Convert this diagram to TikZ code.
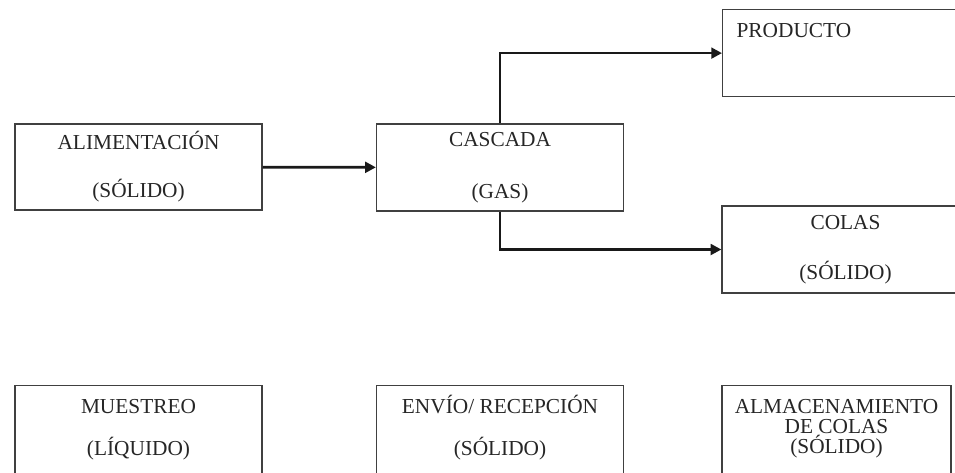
\documentclass[tikz,border=0pt]{standalone}
\usepackage{fontspec}
\setmainfont{Liberation Serif}
\usetikzlibrary{arrows.meta}

\begin{document}
\begin{tikzpicture}[x=0.75pt, y=-0.75pt,
    blk/.style={shape=rectangle, draw=black!75, line width=0.9pt, minimum width=185.25pt, minimum height=64.5pt, inner sep=0pt, align=center, text=black!85},
    blktop/.style={blk, anchor=north, minimum height=0pt, text height=52.5pt, text depth=60pt},
    blkleft/.style={blk, anchor=north west, align=left, text width=164.25pt, inner xsep=10.5pt, minimum height=0pt, text height=21pt, text depth=44.25pt},
    flow/.style={draw=black!90, line width=2pt, -{Triangle[length=8pt, width=8pt]}},
]
\clip (0,0) rectangle (955,472);
\node[blk, font=\fontsize{16}{36}\selectfont] (alim) at (138.5,167) {ALIMENTACIÓN\\(SÓLIDO)};
\node[blk, minimum height=65.25pt, font=\fontsize{16}{39}\selectfont] (casc) at (500,167.5) {CASCADA\\(GAS)};
\node[blkleft, font=\fontsize{16}{19}\selectfont] (prod) at (722,9) {PRODUCTO};
\node[blk, minimum height=65.25pt, font=\fontsize{16}{37.5}\selectfont] (colas) at (845.5,249.5) {COLAS\\(SÓLIDO)};
\node[blktop, font=\fontsize{16}{31.5}\selectfont] (muest) at (138.5,385) {MUESTREO\\(LÍQUIDO)};
\node[blktop, font=\fontsize{16}{31.5}\selectfont] (envio) at (500,385) {ENVÍO/ RECEPCIÓN\\(SÓLIDO)};
\node[blktop, minimum width=171.75pt, text height=51pt, font=\fontsize{16}{15}\selectfont] (almac) at (836.5,385) {ALMACENAMIENTO\\DE COLAS\\(SÓLIDO)};

\draw[flow] (alim) -- (casc);
\draw[flow] (casc.north) |- (prod.west);
\draw[flow] (casc.south) |- (colas.west);
\end{tikzpicture}
\end{document}
